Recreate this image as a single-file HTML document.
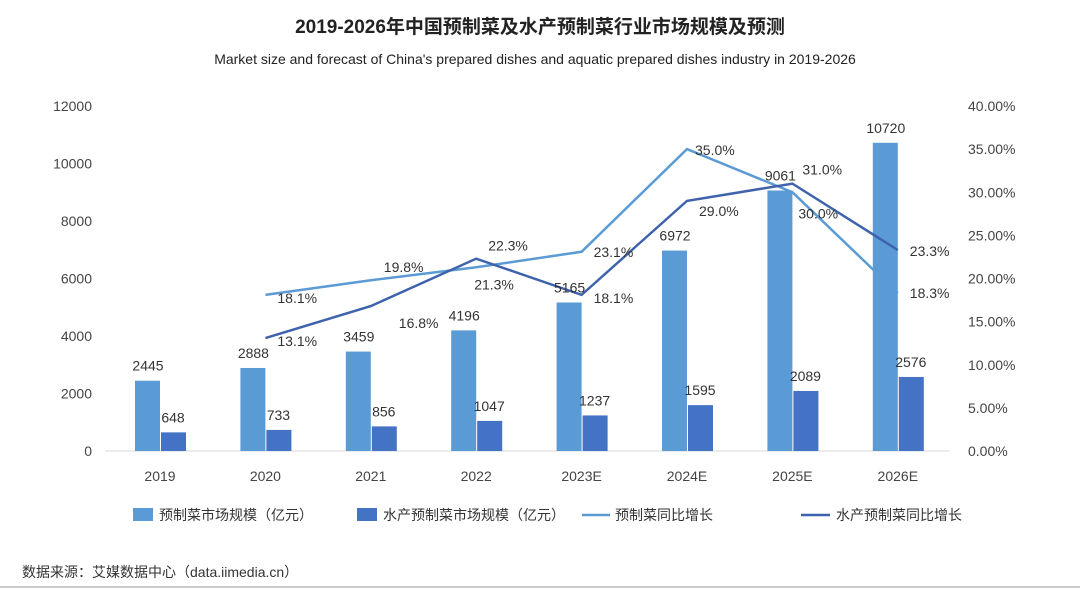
<!DOCTYPE html>
<html><head><meta charset="utf-8"><style>
body{margin:0;background:#fff;width:1080px;height:611px;overflow:hidden;font-family:"Liberation Sans","Noto Sans CJK SC",sans-serif}
svg text{font-family:"Liberation Sans","Noto Sans CJK SC",sans-serif}
</style></head><body>
<svg id="chart" width="1080" height="611" xmlns="http://www.w3.org/2000/svg">
<text x="540" y="33" text-anchor="middle" font-size="19" font-weight="bold" fill="#222">2019-2026年中国预制菜及水产预制菜行业市场规模及预测</text>
<text x="535" y="64" text-anchor="middle" font-size="14" fill="#222">Market size and forecast of China's prepared dishes and aquatic prepared dishes industry in 2019-2026</text>
<g id="axes"></g><g id="bars"></g><g id="lines"></g><g id="labels"></g>
<g font-size="14" fill="#333">
<rect x="133" y="508" width="20" height="13" fill="#5b9bd5"/><text x="159" y="520">预制菜市场规模（亿元）</text>
<rect x="357" y="508" width="20" height="13" fill="#4472c4"/><text x="383" y="520">水产预制菜市场规模（亿元）</text>
<line x1="582" y1="515" x2="610" y2="515" stroke="#5b9bd5" stroke-width="2.5"/><text x="615" y="520">预制菜同比增长</text>
<line x1="801" y1="515" x2="830" y2="515" stroke="#3f62ad" stroke-width="2.5"/><text x="836" y="520">水产预制菜同比增长</text>
</g>
<text x="22" y="577" font-size="14" fill="#333">数据来源：艾媒数据中心（data.iimedia.cn）</text>
<line x1="0" y1="587" x2="1080" y2="587" stroke="#999" stroke-width="1"/>
</svg>
<script>
const categories=["2019","2020","2021","2022","2023E","2024E","2025E","2026E"];
const marketSize=[2445,2888,3459,4196,5165,6972,9061,10720];
const aquaticSize=[648,733,856,1047,1237,1595,2089,2576];
const marketGrowth=[null,18.1,19.8,21.3,23.1,35.0,30.0,18.3];
const aquaticGrowth=[null,13.1,16.8,22.3,18.1,29.0,31.0,23.3];
const leftTicks=[0,2000,4000,6000,8000,10000,12000];
const rightTicks=[0,5,10,15,20,25,30,35,40];
const NS="http://www.w3.org/2000/svg";
const y0=451,yTop=106;
const yL=v=>y0-(v/12000)*(y0-yTop);
const yR=v=>y0-(v/40)*(y0-yTop);
const xC=i=>160+i*105.4;
function mk(tag,attrs,parent,txt){const e=document.createElementNS(NS,tag);for(const k in attrs)e.setAttribute(k,attrs[k]);if(txt!=null)e.textContent=txt;document.getElementById(parent).appendChild(e);return e;}
mk('line',{x1:105,y1:y0,x2:950,y2:y0,stroke:'#d9d9d9'},'axes');
leftTicks.forEach(t=>{const e=mk('text',{x:92,y:yL(t)+5,'text-anchor':'end','font-size':14,fill:'#444'},'axes',t);

});
rightTicks.forEach(t=>{const e=mk('text',{x:968,y:yR(t)+5,'font-size':14,fill:'#444'},'axes',t.toFixed(2)+'%');

});
categories.forEach((c,i)=>{const e=mk('text',{x:xC(i),y:481,'text-anchor':'middle','font-size':14,fill:'#444'},'axes',c);

});
categories.forEach((c,i)=>{
const b1=mk('rect',{x:xC(i)-25,y:yL(marketSize[i]),width:25,height:y0-yL(marketSize[i]),fill:'#5b9bd5'},'bars');


const b2=mk('rect',{x:xC(i)+1,y:yL(aquaticSize[i]),width:25,height:y0-yL(aquaticSize[i]),fill:'#4472c4'},'bars');


const t1=mk('text',{x:xC(i)-12,y:yL(marketSize[i])-10,'text-anchor':'middle','font-size':14,fill:'#333'},'labels',marketSize[i]);


const t2=mk('text',{x:xC(i)+13,y:yL(aquaticSize[i])-10,'text-anchor':'middle','font-size':14,fill:'#333'},'labels',aquaticSize[i]);


});
function line(vals,color,name){let d='';vals.forEach((v,i)=>{if(v==null)return;d+=(d?'L':'M')+xC(i)+','+yR(v);});
const p=mk('path',{d:d,fill:'none',stroke:color,'stroke-width':2.5},'lines');

}
line(marketGrowth,'#5b9bd5','market-growth-line');
line(aquaticGrowth,'#3f62ad','aquatic-growth-line');
const mOff=[null,[12,8],[13,-8],[-2,22],[12,5],[8,6],[6,26],[12,5]];
const aOff=[null,[12,8],[28,22],[12,-8],[12,8],[12,15],[10,-9],[12,6]];
function lab(vals,off,name){vals.forEach((v,i)=>{if(v==null)return;
const t=mk('text',{x:xC(i)+off[i][0],y:yR(v)+off[i][1],'font-size':14,fill:'#333'},'labels',v.toFixed(1)+'%');

});}
lab(marketGrowth,mOff,'market-growth-label');
lab(aquaticGrowth,aOff,'aquatic-growth-label');
</script>
</body></html>
